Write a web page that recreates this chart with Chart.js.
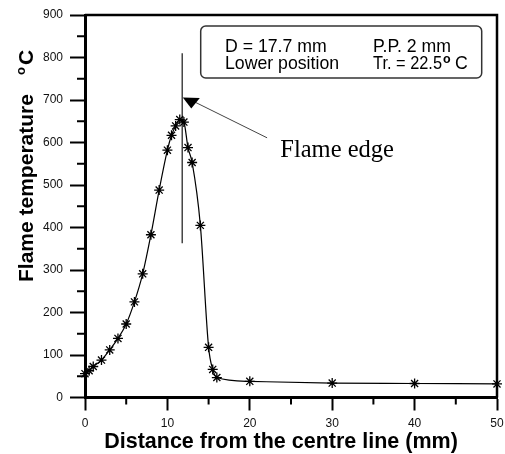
<!DOCTYPE html>
<html><head><meta charset="utf-8">
<script src="https://cdn.jsdelivr.net/npm/chart.js@4.4.1/dist/chart.umd.min.js"></script>
<style>html,body{margin:0;padding:0;background:#fff;}#wrap{width:505px;height:454px;position:relative;}</style>
</head><body><div id="wrap"><canvas id="c"></canvas></div>
<script>
// Data
const distanceMm   = [0, 0.5, 1, 2, 3, 4, 5, 6, 7, 8, 9, 10, 10.5, 11, 11.5, 12, 12.5, 13, 14, 15, 15.5, 16, 20, 30, 40, 50];
const temperatureC = [56, 63, 73, 88, 112, 139, 173, 225, 291, 383, 488, 582, 617, 639, 654, 648, 588, 553, 405, 118, 66, 47, 38, 34, 33, 32];
const xTickValues = [0, 10, 20, 30, 40, 50];
const yTickValues = [0, 100, 200, 300, 400, 500, 600, 700, 800, 900];
const flameEdgeLineX = [11.8, 11.8];
const flameEdgeLineY = [363, 810];
const arrowTip = [12.9, 680];      // triangle tip (x mm, y °C)
const arrowStart = [13.35, 695];
const arrowEnd = [22.1, 611];
const labelAnchor = [23.7, 567];
const legendCol1 = ["D = 17.7 mm", "Lower position"];
const legendCol2 = ["P.P. 2 mm", "Tr. = 22.5"];
const xTitle = "Distance from the centre line (mm)";
const yTitle = "Flame temperature";
const annotationText = "Flame edge";

const points = distanceMm.map((x, i) => ({x, y: temperatureC[i]}));

const deco = {
  id: 'deco',
  beforeDatasetsDraw(chart) {
    const {ctx, chartArea: a, scales: {x, y}} = chart;
    ctx.save();
    ctx.strokeStyle = '#000';
    ctx.lineWidth = 2.5;
    ctx.beginPath();
    ctx.moveTo(a.left, a.top); ctx.lineTo(a.right, a.top); ctx.lineTo(a.right, a.bottom);
    ctx.stroke();
    ctx.lineWidth = 2;
    ctx.beginPath();
    for (let v = 50; v < 900; v += 100) {
      const py = y.getPixelForValue(v);
      ctx.moveTo(a.left - 8, py); ctx.lineTo(a.left, py);
    }
    for (let v = 5; v < 50; v += 10) {
      const px = x.getPixelForValue(v);
      ctx.moveTo(px, a.bottom); ctx.lineTo(px, a.bottom + 7);
    }
    ctx.stroke();
    ctx.strokeStyle = '#444';
    ctx.lineWidth = 1.5;
    ctx.beginPath();
    ctx.moveTo(x.getPixelForValue(flameEdgeLineX[0]), y.getPixelForValue(flameEdgeLineY[0]));
    ctx.lineTo(x.getPixelForValue(flameEdgeLineX[1]), y.getPixelForValue(flameEdgeLineY[1]));
    ctx.stroke();
    ctx.restore();
  },
  afterDraw(chart) {
    const {ctx, scales: {x, y}} = chart;
    ctx.save();
    ctx.strokeStyle = '#444';
    ctx.lineWidth = 1;
    ctx.beginPath();
    ctx.moveTo(x.getPixelForValue(arrowStart[0]), y.getPixelForValue(arrowStart[1]));
    ctx.lineTo(x.getPixelForValue(arrowEnd[0]), y.getPixelForValue(arrowEnd[1]));
    ctx.stroke();
    const tx = x.getPixelForValue(arrowTip[0]), ty = y.getPixelForValue(arrowTip[1]);
    ctx.fillStyle = '#000';
    ctx.beginPath();
    ctx.moveTo(tx, ty); ctx.lineTo(tx - 8.5, ty - 11); ctx.lineTo(tx + 8.5, ty - 10.5); ctx.closePath();
    ctx.fill();
    ctx.font = '24.5px "Liberation Serif", "Times New Roman", serif';
    ctx.textBaseline = 'alphabetic';
    ctx.textAlign = 'left';
    ctx.fillText(annotationText, x.getPixelForValue(labelAnchor[0]), y.getPixelForValue(labelAnchor[1]));
    const bx = 200.7, by = 26, bw = 281, bh = 52, r = 5;
    ctx.fillStyle = '#fff';
    ctx.strokeStyle = '#333';
    ctx.lineWidth = 1.5;
    ctx.beginPath();
    ctx.roundRect(bx, by, bw, bh, r);
    ctx.fill(); ctx.stroke();
    ctx.fillStyle = '#000';
    ctx.font = '17.7px "Liberation Sans", Arial, sans-serif';
    ctx.fillText(legendCol1[0], 225, 51.7);
    ctx.fillText(legendCol1[1], 225, 69);
    ctx.fillText(legendCol2[0], 373, 51.7);
    ctx.fillText(legendCol2[1], 373, 69, 69);
    ctx.font = 'bold 12.5px "Liberation Sans", Arial, sans-serif';
    ctx.fillText('o', 443, 63.3);
    ctx.font = '17.7px "Liberation Sans", Arial, sans-serif';
    ctx.fillText('C', 455, 69);
    ctx.font = 'bold 21.5px "Liberation Sans", Arial, sans-serif';
    ctx.textAlign = 'center';
    ctx.fillText(xTitle, 281, 448.3);
    ctx.translate(32.5, 282);
    ctx.rotate(-Math.PI / 2);
    ctx.textAlign = 'left';
    ctx.font = 'bold 21px "Liberation Sans", Arial, sans-serif';
    ctx.fillText(yTitle, 0, 0);
    ctx.font = 'bold 13px "Liberation Sans", Arial, sans-serif';
    ctx.fillText('o', 207, -7.5);
    ctx.font = 'bold 21px "Liberation Sans", Arial, sans-serif';
    ctx.fillText('C', 217, 0);
    ctx.restore();
  }
};

new Chart(document.getElementById('c'), {
  type: 'scatter',
  data: {
    datasets: [{
      data: points,
      showLine: true,
      borderColor: '#000',
      borderWidth: 1.2,
      cubicInterpolationMode: 'monotone',
      pointStyle: 'star',
      pointRadius: 5,
      pointBorderWidth: 1.3,
      pointBorderColor: '#000',
      pointBackgroundColor: '#000',
      clip: false
    }]
  },
  options: {
    responsive: true,
    maintainAspectRatio: false,
    animation: false,
    devicePixelRatio: 1,
    layout: {padding: {left: 0, right: 8, top: 15, bottom: 0}},
    plugins: {legend: {display: false}, tooltip: {enabled: false}, title: {display: false}},
    scales: {
      x: {
        type: 'linear', min: 0, max: 50,
        afterBuildTicks: s => { s.ticks = xTickValues.map(v => ({value: v})); },
        ticks: {color: '#111', font: {size: 12, family: '"Liberation Sans", Arial, sans-serif'}, padding: 6, maxRotation: 0},
        grid: {drawOnChartArea: false, tickLength: 13, tickWidth: 2, tickColor: '#000'},
        border: {color: '#000', width: 3},
        afterFit: s => { s.height = 56.5; s.paddingRight = 0; s.paddingLeft = 0; }
      },
      y: {
        type: 'linear', min: 0, max: 900,
        afterBuildTicks: s => { s.ticks = yTickValues.map(v => ({value: v})); },
        ticks: {color: '#111', font: {size: 12, family: '"Liberation Sans", Arial, sans-serif'}, padding: 7},
        grid: {drawOnChartArea: false, tickLength: 15, tickWidth: 2, tickColor: '#000'},
        border: {color: '#000', width: 3},
        afterFit: s => { s.width = 85; s.paddingTop = 0; s.paddingBottom = 0; }
      }
    }
  },
  plugins: [deco]
});
</script></body></html>
